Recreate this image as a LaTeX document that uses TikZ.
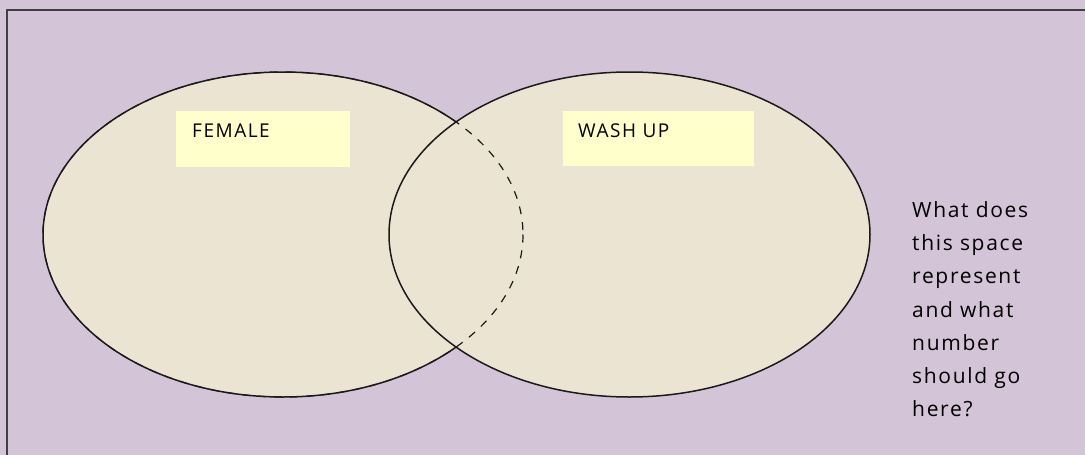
\documentclass[tikz,border=0pt]{standalone}
\usepackage{fontspec}
\setmainfont[LetterSpace=8]{Open Sans}
\definecolor{vennLilac}{HTML}{D3C4D7}
\definecolor{vennBeige}{HTML}{ECE4D3}
\definecolor{vennYellow}{HTML}{FFFFCC}
\definecolor{vennFrame}{HTML}{404040}
\definecolor{vennLine}{HTML}{1A1A1A}

\begin{document}
\begin{tikzpicture}[x=1pt, y=-1pt, font=\fontsize{19}{23}\selectfont]
    \useasboundingbox[fill=vennLilac] (0,0) rectangle (1085,455);
    \draw[vennFrame, line width=2pt] (7,455) |- (1085,10);
    % the two sets, then the hidden part of the first one
    \draw[vennLine, line width=1.5pt, fill=vennBeige] (283,234.5) ellipse [x radius=240, y radius=162.5];
    \draw[vennLine, line width=1.5pt, fill=vennBeige] (629.5,234.5) ellipse [x radius=240.5, y radius=162.5];
    \draw[vennLine, line width=1.2pt, dash pattern=on 8pt off 8pt] (283,234.5) ellipse [x radius=240, y radius=162.5];
    \node[fill=vennYellow, minimum width=174pt, minimum height=56pt, inner sep=0pt, anchor=north west] (femalebox) at (176,111) {};
    \node[fill=vennYellow, minimum width=191pt, minimum height=55pt, inner sep=0pt, anchor=north west] (washbox) at (563,111) {};
    \node[anchor=base west, inner sep=0pt] (femalelabel) at ([xshift=16pt, yshift=-26pt]femalebox.north west) {FEMALE};
    \node[anchor=base west, inner sep=0pt] (washlabel) at ([xshift=15pt, yshift=-26pt]washbox.north west) {WASH UP};
    \node[anchor=north west, inner sep=0pt, align=left, font=\fontsize{21}{33.3}\selectfont] (question) at (912,201)
      {What does\\this space\\represent\\and what\\number\\should go\\here?};
  \end{tikzpicture}
\end{document}
